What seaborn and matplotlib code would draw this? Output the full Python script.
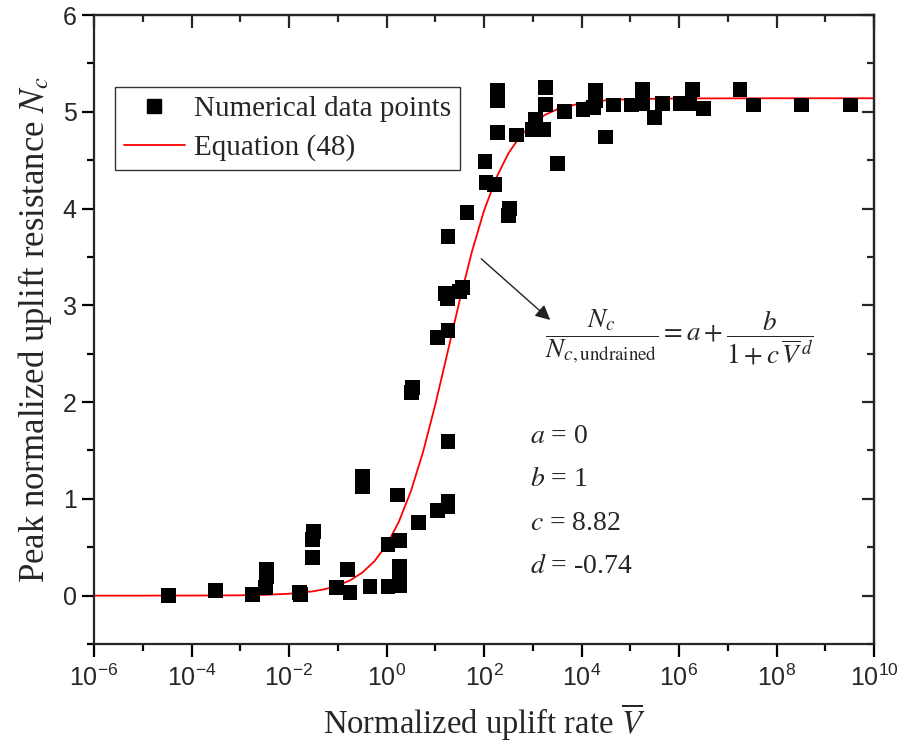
import numpy as np
import pandas as pd
import seaborn as sns
import matplotlib.pyplot as plt
from matplotlib.ticker import FixedLocator, MultipleLocator, NullFormatter, LogFormatterSciNotation
from matplotlib.lines import Line2D

# numerical data points: log10(V) and Nc
pt_logv = [-4.48, -3.50, -2.75, -2.48, -2.46, -2.46, -1.79, -1.76, -1.51, -1.51,
           -1.50, -1.02, -0.80, -0.75, -0.50, -0.50, -0.34, 0.03, 0.03, 0.22,
           0.26, 0.26, 0.27, 0.26, 0.52, 0.53, 0.65, 1.04, 1.26, 1.26,
           1.04, 1.26, 1.26, 1.20, 1.25, 1.50, 1.55, 1.26, 1.65, 2.02,
           2.04, 2.22, 2.27, 2.27, 2.27, 2.51, 2.53, 2.66, 3.00, 3.05,
           3.22, 3.27, 3.27, 3.50, 3.66, 4.03, 4.24, 4.28, 4.28, 4.50,
           4.65, 5.03, 5.26, 5.26, 5.50, 5.67, 6.02, 6.22, 6.27, 6.51,
           7.25, 7.52, 8.52, 9.51]
pt_nc = [0.00, 0.05, 0.01, 0.08, 0.20, 0.27, 0.03, 0.01, 0.39, 0.58,
         0.66, 0.08, 0.27, 0.03, 1.13, 1.23, 0.09, 0.09, 0.53, 1.04,
         0.10, 0.20, 0.30, 0.57, 2.10, 2.15, 0.76, 0.88, 0.92, 0.97,
         2.67, 2.74, 1.59, 3.12, 3.07, 3.14, 3.18, 3.71, 3.96, 4.49,
         4.27, 4.25, 4.79, 5.12, 5.22, 3.93, 4.00, 4.76, 4.82, 4.92,
         4.82, 5.08, 5.25, 4.47, 5.00, 5.02, 5.04, 5.12, 5.22, 4.74,
         5.07, 5.07, 5.09, 5.23, 4.94, 5.09, 5.09, 5.09, 5.23, 5.03,
         5.23, 5.07, 5.07, 5.07]

# red curve (Equation 48)
curve_logv = [-6, -5, -4, -3, -2.5, -2, -1.5, -1.25, -1, -0.75, -0.5, -0.25, 0,
              0.25, 0.5, 0.75, 1, 1.25, 1.5, 1.75, 2, 2.25, 2.5, 2.75, 3, 3.25,
              3.5, 4, 4.5, 5, 6, 8, 10]
curve_nc = [0.0, 0.0001, 0.0006, 0.0035, 0.0082, 0.0193, 0.0449, 0.0683, 0.1039,
            0.157, 0.237, 0.354, 0.523, 0.760, 1.079, 1.486, 1.973, 2.509, 3.051,
            3.552, 3.978, 4.317, 4.571, 4.753, 4.881, 4.968, 5.026, 5.091, 5.119,
            5.131, 5.138, 5.140, 5.140]

params = ['$a$ = 0', '$b$ = 1', '$c$ = 8.82', '$d$ = -0.74']

pts = pd.DataFrame({'V': 10.0 ** np.array(pt_logv), 'Nc': pt_nc})
curve = pd.DataFrame({'V': 10.0 ** np.array(curve_logv), 'Nc': curve_nc})

sns.set_style('ticks')
plt.rcParams['font.family'] = ['Liberation Sans', 'DejaVu Sans']
plt.rcParams['mathtext.fontset'] = 'stix'
plt.rcParams['axes.linewidth'] = 1.6

fig = plt.figure(figsize=(8.99, 7.52), dpi=100)
ax = fig.add_axes([0.1046, 0.1436, 0.8676, 0.8364])

sns.lineplot(data=curve, x='V', y='Nc', color='#ff0000', lw=1.3, sort=False,
             estimator=None, ax=ax, zorder=2)
sns.scatterplot(data=pts, x='V', y='Nc', marker='s', s=115, color='black',
                edgecolor='none', ax=ax, zorder=3)

major_x = 10.0 ** np.arange(-6, 11, 2)
minor_x = 10.0 ** np.arange(-5, 10, 2)

ax.set_xscale('log')
ax.set_xlim(1e-6, 1e10)
ax.set_ylim(-0.5, 6)
ax.xaxis.set_major_locator(FixedLocator(major_x))
ax.xaxis.set_major_formatter(LogFormatterSciNotation())
ax.xaxis.set_minor_locator(FixedLocator(minor_x))
ax.xaxis.set_minor_formatter(NullFormatter())
ax.yaxis.set_major_locator(FixedLocator(range(0, 7)))
ax.yaxis.set_minor_locator(FixedLocator([-0.5, 0.5, 1.5, 2.5, 3.5, 4.5, 5.5]))
ax.tick_params(which='major', length=9, width=1.6, labelsize=18, color='black')
ax.tick_params(which='minor', length=5, width=1.6, color='black')
ax.tick_params(axis='x', pad=6)

# mirrored ticks on top and right, pointing inward
top = ax.secondary_xaxis('top')
right = ax.secondary_yaxis('right')
for sec in (top, right):
    sec.tick_params(which='major', direction='in', length=9, width=1.6,
                    labeltop=False, labelright=False)
    sec.tick_params(which='minor', direction='in', length=5, width=1.6)
top.xaxis.set_major_locator(FixedLocator(major_x))
top.xaxis.set_minor_locator(FixedLocator(minor_x))
top.xaxis.set_major_formatter(NullFormatter())
top.xaxis.set_minor_formatter(NullFormatter())
right.yaxis.set_major_locator(FixedLocator(range(0, 7)))
right.yaxis.set_minor_locator(FixedLocator([-0.5, 0.5, 1.5, 2.5, 3.5, 4.5, 5.5]))
right.yaxis.set_major_formatter(NullFormatter())

serif = ['Liberation Serif', 'DejaVu Serif']
ax.set_xlabel(r'Normalized uplift rate $\overline{V}$', family=serif, fontsize=23.5, labelpad=8)
ax.set_ylabel(r'Peak normalized uplift resistance $N_c$', family=serif, fontsize=25, labelpad=6)

handles = [Line2D([], [], marker='s', ls='none', color='black', markersize=9.5),
           Line2D([], [], color='#ff0000', lw=1.3)]
leg = ax.legend(handles, ['Numerical data points', 'Equation (48)'],
                loc='upper left', bbox_to_anchor=(0.027, 0.886), borderaxespad=0,
                prop={'family': serif, 'size': 21}, frameon=True, fancybox=False,
                handlelength=2.1, labelspacing=0.42, borderpad=0.3, handletextpad=0.3)
leg.get_frame().set_edgecolor('black')
leg.get_frame().set_linewidth(1.0)

ax.annotate('', xy=(10 ** 3.4, 2.83), xytext=(10 ** 1.9, 3.5),
            arrowprops=dict(arrowstyle='-|>', color='#222222', lw=1.0,
                            mutation_scale=22))
ax.text(10 ** 3.25, 2.67,
        r'$\dfrac{N_c}{N_{c,\mathrm{undrained}}} = a + \dfrac{b}{1 + c\,\overline{V}^{\,d}}$',
        fontsize=19.5, va='center', ha='left')
for i, s in enumerate(params):
    ax.text(10 ** 2.95, 1.64 - 0.445 * i, s, family=serif, fontsize=20, va='center', ha='left')

fig.savefig('out.png', dpi=100)
